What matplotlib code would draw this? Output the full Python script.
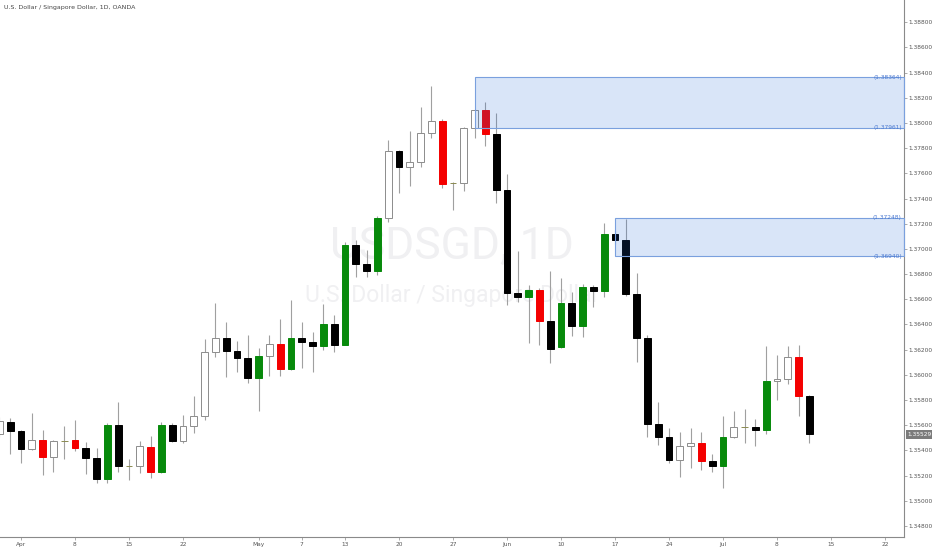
import numpy as np
import pandas as pd
import matplotlib
matplotlib.use("Agg")
import matplotlib.pyplot as plt
import matplotlib.transforms as mtransforms
from matplotlib.patches import Rectangle

# Daily USDSGD candles, 2019-03-28 .. 2019-07-11 (weekdays)
opens = [
    1.35530, 1.35625, 1.35554, 1.35411, 1.35482, 1.35347, 1.35474, 1.35482, 1.35419, 1.35339,
    1.35172, 1.35601, 1.35276, 1.35276, 1.35427, 1.35228, 1.35601, 1.35474, 1.35593, 1.35673,
    1.36181, 1.36292, 1.36189, 1.36133, 1.35975, 1.36149, 1.36245, 1.36046, 1.36292, 1.36261,
    1.36229, 1.36404, 1.36237, 1.37031, 1.36880, 1.36825, 1.37246, 1.37778, 1.37651, 1.37690,
    1.37921, 1.38016, 1.37524, 1.37524, 1.37960, 1.38103, 1.37913, 1.37468, 1.36650, 1.36618,
    1.36674, 1.36427, 1.36221, 1.36570, 1.36388, 1.36697, 1.36666, 1.37118, 1.37071, 1.36642,
    1.36292, 1.35609, 1.35506, 1.35323, 1.35435, 1.35458, 1.35315, 1.35276, 1.35506, 1.35585,
    1.35589, 1.35562, 1.35951, 1.35967, 1.36141, 1.35832]
highs = [
    1.35665, 1.35657, 1.35560, 1.35697, 1.35562, 1.35480, 1.35593, 1.35641, 1.35466, 1.35419,
    1.35617, 1.35784, 1.35331, 1.35474, 1.35514, 1.35625, 1.35617, 1.35681, 1.35832, 1.36284,
    1.36570, 1.36419, 1.36269, 1.36316, 1.36213, 1.36316, 1.36443, 1.36594, 1.36419, 1.36340,
    1.36562, 1.36475, 1.37055, 1.37071, 1.36991, 1.37261, 1.37865, 1.37785, 1.37937, 1.38127,
    1.38294, 1.38032, 1.37530, 1.37965, 1.38108, 1.38167, 1.38080, 1.37595, 1.36983, 1.36713,
    1.36690, 1.36825, 1.36769, 1.36658, 1.36721, 1.36713, 1.37206, 1.37150, 1.37238, 1.36809,
    1.36316, 1.35784, 1.35578, 1.35546, 1.35578, 1.35546, 1.35371, 1.35673, 1.35713, 1.35728,
    1.35649, 1.36229, 1.36157, 1.36229, 1.36237, 1.35840]
lows = [
    1.35506, 1.35371, 1.35300, 1.35405, 1.35204, 1.35228, 1.35331, 1.35395, 1.35212, 1.35141,
    1.35141, 1.35228, 1.35164, 1.35220, 1.35180, 1.35220, 1.35466, 1.35458, 1.35538, 1.35641,
    1.36141, 1.35983, 1.36022, 1.35935, 1.35713, 1.35990, 1.35990, 1.36038, 1.36054, 1.36022,
    1.36197, 1.36181, 1.36237, 1.36777, 1.36777, 1.36793, 1.37214, 1.37444, 1.37500, 1.37651,
    1.37881, 1.37484, 1.37309, 1.37460, 1.37881, 1.37817, 1.37365, 1.36555, 1.36578, 1.36253,
    1.36237, 1.36094, 1.36215, 1.36308, 1.36300, 1.36539, 1.36618, 1.37040, 1.36626, 1.36102,
    1.35506, 1.35442, 1.35300, 1.35188, 1.35260, 1.35244, 1.35228, 1.35101, 1.35500, 1.35458,
    1.35435, 1.35530, 1.35800, 1.35927, 1.35673, 1.35458]
closes = [
    1.35633, 1.35554, 1.35411, 1.35482, 1.35347, 1.35474, 1.35476, 1.35419, 1.35339, 1.35172,
    1.35601, 1.35276, 1.35272, 1.35435, 1.35228, 1.35601, 1.35474, 1.35593, 1.35673, 1.36181,
    1.36292, 1.36189, 1.36133, 1.35975, 1.36149, 1.36245, 1.36046, 1.36292, 1.36261, 1.36229,
    1.36404, 1.36237, 1.37031, 1.36880, 1.36825, 1.37246, 1.37778, 1.37651, 1.37690, 1.37921,
    1.38016, 1.37516, 1.37520, 1.37960, 1.38103, 1.37913, 1.37468, 1.36650, 1.36618, 1.36674,
    1.36427, 1.36205, 1.36570, 1.36388, 1.36697, 1.36666, 1.37118, 1.37071, 1.36642, 1.36292,
    1.35609, 1.35506, 1.35323, 1.35435, 1.35458, 1.35315, 1.35276, 1.35506, 1.35585, 1.35589,
    1.35562, 1.35951, 1.35967, 1.36141, 1.35832, 1.35529]
# w = hollow, k = black, g = green, r = red, d = doji
kinds = list("wkkwrwdrkk" "gkdwrgkwww" "wkkkgwrgkk" "gkgkkgwkww"
             "wrdwwrkkkg" "rkgkgkgkkk" "kkkwwrkgwd" "kgwwrk")

# supply zones
zone_start = ["2019-05-29", "2019-06-17"]
zone_top = [1.38364, 1.37248]
zone_bottom = [1.37961, 1.36940]

tick_dates = ["2019-04-01", "2019-04-08", "2019-04-15", "2019-04-22", "2019-05-01",
              "2019-05-07", "2019-05-13", "2019-05-20", "2019-05-27", "2019-06-03",
              "2019-06-10", "2019-06-17", "2019-06-24", "2019-07-01", "2019-07-08",
              "2019-07-15", "2019-07-22"]
tick_labels = ["Apr", "8", "15", "22", "May", "7", "13", "20", "27", "Jun",
               "10", "17", "24", "Jul", "8", "15", "22"]

days = pd.bdate_range("2019-03-28", "2019-07-31")
pos = {d: i for i, d in enumerate(days)}
x = np.arange(len(opens))

fig = plt.figure(figsize=(9.32, 5.5), dpi=100)
ax = fig.add_axes([0, 13 / 550, 904 / 932, 537 / 550])
ax.set_xlim(0.06, 83.76)
ax.set_ylim(1.347117, 1.389771)

# watermark
ax.text(0.5, 0.54, "USDSGD, 1D", transform=ax.transAxes, ha="center", va="center",
        fontsize=32, family="Roboto", color="#f0f0f2", zorder=0)
ax.text(0.5, 0.449, "U.S. Dollar / Singapore Dollar", transform=ax.transAxes,
        ha="center", va="center", fontsize=16.5, family="Roboto", color="#f0f0f2", zorder=0)

face = {"w": "white", "k": "black", "g": "#078a0b", "r": "#f40000", "d": "#a0a060"}
edge = {"w": "#8c8c8c", "k": "black", "g": "#078a0b", "r": "#f40000", "d": "#8a8a50"}

ax.vlines(x, lows, highs, color="#a0a0a0", lw=0.8, zorder=2)
o = np.array(opens)
c = np.array(closes)
bottoms = np.minimum(o, c)
heights = np.maximum(np.abs(c - o), 0.00003)
ax.bar(x, heights, bottom=bottoms, width=0.62,
       color=[face[k] for k in kinds], edgecolor=[edge[k] for k in kinds],
       linewidth=0.7, zorder=3)

# zones
x_right = ax.get_xlim()[1]
for s, t, b in zip(zone_start, zone_top, zone_bottom):
    x0 = pos[pd.Timestamp(s)]
    ax.add_patch(Rectangle((x0, b), x_right - x0, t - b, facecolor=(0.13, 0.4, 0.86, 0.17),
                           edgecolor="#7aa0de", linewidth=0.8, zorder=4, clip_on=False))
    for v in (t, b):
        ax.text(x_right - 0.2, v, "(%.5f)" % v, ha="right", va="center",
                fontsize=4.2, color="#4a78d0", zorder=5)

# axes styling
for side in ("top", "left"):
    ax.spines[side].set_visible(False)
for side in ("right", "bottom"):
    ax.spines[side].set_color("#8a8a8a")
    ax.spines[side].set_linewidth(0.8)

ax.yaxis.tick_right()
y_ticks = np.arange(1.348, 1.3881, 0.002)
ax.set_yticks(y_ticks)
ax.set_yticklabels(["%.5f" % v for v in y_ticks])
ax.set_xticks([pos[pd.Timestamp(d)] for d in tick_dates])
ax.set_xticklabels(tick_labels)
ax.tick_params(axis="both", labelsize=4.2, colors="#8a8a8a", labelcolor="#555555",
               length=2, width=0.5, pad=1.5)

# last price label
trans = mtransforms.blended_transform_factory(ax.transAxes, ax.transData)
ax.text(1.004, closes[-1], "%.5f" % closes[-1], transform=trans, ha="left", va="center",
        fontsize=4.2, color="white", clip_on=False,
        bbox=dict(boxstyle="square,pad=0.35", fc="#7b7b7b", ec="none"))

fig.text(4 / 932, 1 - 7 / 550, "U.S. Dollar / Singapore Dollar, 1D, OANDA",
         fontsize=4.5, color="#444444", va="center", ha="left")

fig.savefig("out.png", dpi=100)
